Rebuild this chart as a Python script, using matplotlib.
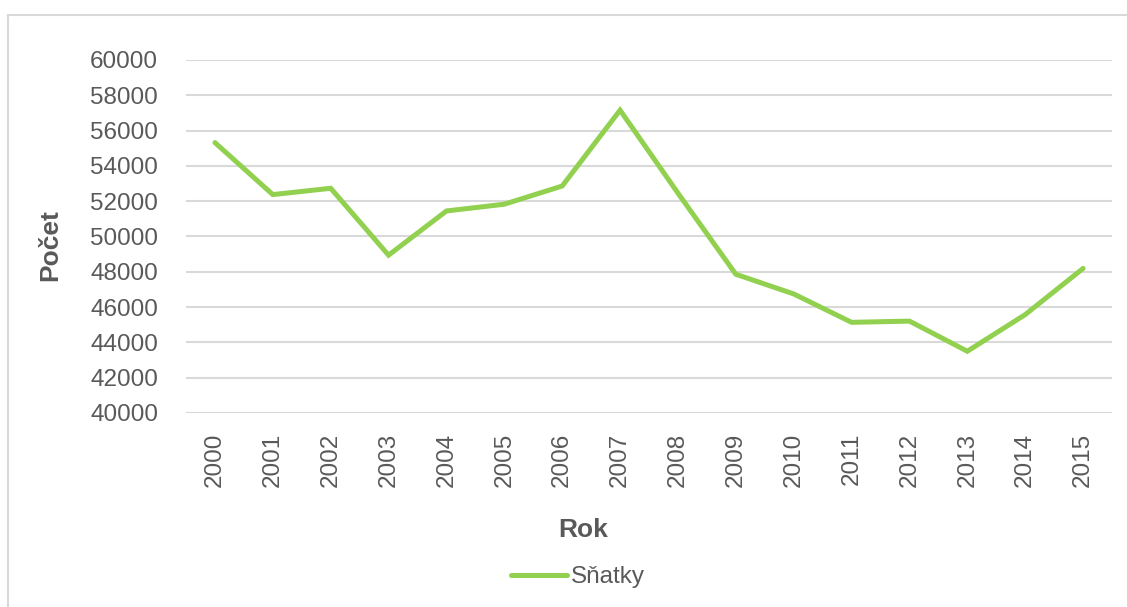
import matplotlib
matplotlib.use("Agg")
import matplotlib.pyplot as plt
from matplotlib.patches import Rectangle

years = ["2000", "2001", "2002", "2003", "2004", "2005", "2006", "2007",
         "2008", "2009", "2010", "2011", "2012", "2013", "2014", "2015"]
snatky = [55321, 52374, 52732, 48943, 51447, 51829, 52860, 57157,
          52457, 47862, 46746, 45137, 45206, 43499, 45575, 48191]
yticks = [40000, 42000, 44000, 46000, 48000, 50000, 52000, 54000, 56000, 58000, 60000]

W, H = 1127, 607
plt.rcParams['font.family'] = ['Liberation Sans', 'DejaVu Sans']
fig = plt.figure(figsize=(W / 100, H / 100), dpi=100)
ax = fig.add_axes([186 / W, 1 - 413 / H, (1112 - 186) / W, (413 - 60) / H])

x = list(range(len(years)))
ax.plot(x, snatky, color='#92D050', lw=3.6, solid_capstyle='round',
        solid_joinstyle='miter', label='Sňatky', zorder=3)

ax.set_xlim(-0.5, len(years) - 0.5)
ax.set_ylim(40000, 60000)
ax.set_yticks(yticks)
ax.set_yticklabels([str(v) for v in yticks])
ax.set_xticks(x)
ax.set_xticklabels(years, rotation=90)
ax.tick_params(axis='both', length=0, colors='#595959', labelsize=17.5)
ax.tick_params(axis='y', pad=20)
ax.tick_params(axis='x', pad=14)
ax.grid(axis='y', color='#D9D9D9', lw=1.5)
ax.set_axisbelow(True)
for s in ax.spines.values():
    s.set_visible(False)

fig.text(50 / W, 1 - 245 / H, 'Počet', rotation=90, ha='center', va='center',
         fontsize=19, fontweight='bold', color='#595959')
fig.text(583 / W, 1 - 530 / H, 'Rok', ha='center', va='center',
         fontsize=19, fontweight='bold', color='#595959')

leg = fig.legend(loc='center', bbox_to_anchor=(578 / W, 1 - 577 / H), frameon=False,
                 fontsize=17.5, handlelength=2.3, handletextpad=0.2, borderpad=0)
for t in leg.get_texts():
    t.set_color('#595959')

fig.patches.append(Rectangle((8 / W, -0.1), 1.2, 1.1 - 15 / H, transform=fig.transFigure,
                             fill=False, edgecolor='#D9D9D9', lw=1.5, clip_on=False))

fig.savefig('out.png', dpi=100, facecolor='white')
